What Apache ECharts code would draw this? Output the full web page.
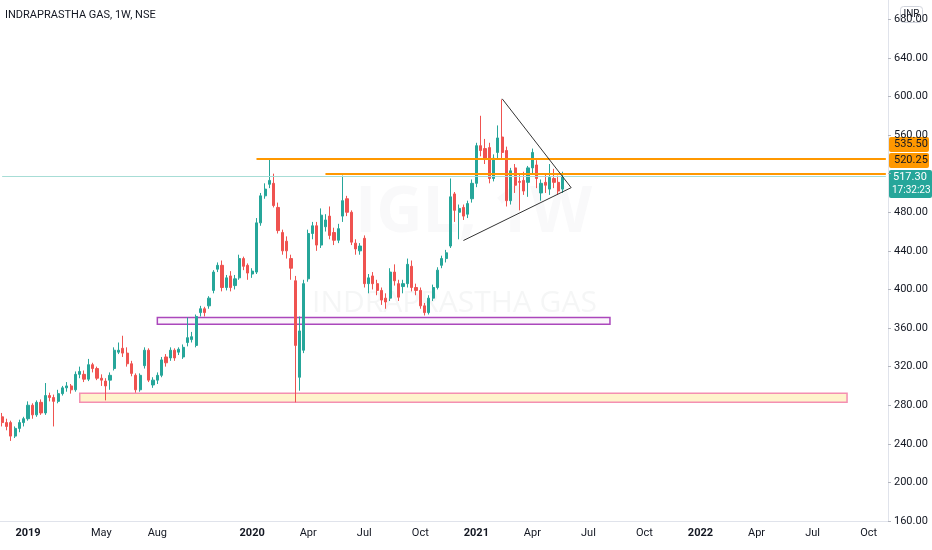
<!DOCTYPE html>
<html><head><meta charset="utf-8">
<script src="https://cdn.jsdelivr.net/npm/echarts@6/dist/echarts.min.js"></script>
<style>html,body{margin:0;padding:0;background:#fff}#c{width:932px;height:550px}</style>
</head><body><div id="c"></div>
<script>
// weekly OHLC as [open, close, low, high], first week = 2018-11-26
const candles = [
[268,262,258,272],[262,258,254,266],[262,248,243,264],[248,256,246,258],[256,262,252,265],
[262,266,258,268],[266,280,264,284],[280,270,266,282],[270,283,268,285],[283,272,270,286],
[272,290,270,303],[290,288,284,293],[288,284,258,291],[284,292,282,296],[292,298,290,300],
[298,300,294,304],[300,296,292,302],[296,312,294,315],[312,315,308,320],[312,307,304,316],
[307,322,305,328],[322,318,314,324],[318,308,306,320],[308,306,300,312],[305,300,285,308],
[306,311,296,314],[318,337,316,340],[335,337,333,345],[339,334,330,352],[334,323,320,340],
[323,313,310,326],[311,296,293,313],[296,311,294,313],[321,337,318,340],[337,306,304,339],
[301,306,298,309],[306,311,302,314],[311,327,309,330],[330,324,320,333],[329,337,326,340],
[337,329,326,339],[335,338,332,340],[330,340,328,343],[345,350,341,371],[348,351,345,356],
[342,372,340,374],[376,380,372,383],[380,376,372,382],[383,391,380,393],[399,418,396,420],
[421,425,418,428],[425,402,398,430],[402,412,399,415],[414,402,398,419],[404,411,400,415],
[412,432,410,436],[432,424,420,434],[425,417,410,427],[416,419,412,422],[418,469,416,474],
[469,497,466,500],[497,504,494,510],[509,513,505,535],[510,487,485,520],[485,461,458,490],
[459,440,436,462],[450,440,432,455],[432,422,410,436],[409,342,283,414],[309,357,295,372],
[337,406,334,410],[411,458,408,462],[458,466,452,470],[466,446,440,470],[446,477,443,484],
[465,472,460,478],[476,456,452,486],[459,451,446,464],[451,463,448,468],[476,492,470,518],
[494,480,476,497],[480,449,446,482],[448,442,436,452],[440,445,436,448],[453,406,402,456],
[406,412,396,416],[414,406,400,418],[406,399,394,410],[399,389,384,402],[391,387,380,396],
[391,418,388,422],[418,409,404,426],[406,392,388,410],[403,406,396,410],[406,426,402,432],
[424,402,398,430],[402,399,394,406],[399,383,380,402],[383,376,373,386],[376,391,374,394],
[391,402,388,405],[402,420,400,423],[425,432,422,435],[432,438,428,441],[445,496,443,515],
[499,482,470,501],[480,484,452,488],[485,476,472,488],[478,489,474,492],[494,510,490,514],
[510,549,506,552],[549,544,538,580],[546,536,530,556],[547,515,510,552],[515,536,512,540],
[542,557,535,570],[558,542,536,597],[544,492,486,548],[492,523,488,526],[526,508,500,530],
[512,511,482,520],[513,502,498,522],[511,526,496,528],[526,542,520,546],[529,515,505,534],
[500,510,492,514],[511,508,500,520],[504,516,498,530],[515,511,505,525],[511,502,498,518],
[504,517.3,500,522]
];
const totalWeeks = 206;
const startDate = new Date(Date.UTC(2018,10,26));
const tickMonths = [[2019,0],[2019,4],[2019,7],[2020,0],[2020,3],[2020,6],[2020,9],[2021,0],[2021,3],[2021,6],[2021,9],[2022,0],[2022,3],[2022,6],[2022,9]];
const monthNames = ['Jan','Feb','Mar','Apr','May','Jun','Jul','Aug','Sep','Oct','Nov','Dec'];
const levels = {resist1:535.5, resist2:520.25, last:517.3};
const hiddenTicks = [520];
// drawings: [x-index, value]
const trendUpper = [[116,597.6],[132,505.5]];
const trendLower = [[107,450.7],[132,505.5]];
const purpleZone = [[36,371],[141,363.8]];
const yellowZone = [[18,292.4],[196,283.1]];
const resistStart = [59,75];

const cats=[];
for(let i=0;i<totalWeeks;i++){const d=new Date(startDate.getTime()+i*7*864e5);cats.push(d.toISOString().slice(0,10));}
const labelMap={};
tickMonths.forEach(([y,m])=>{
  for(let i=0;i<cats.length;i++){const d=new Date(cats[i]);if(d.getUTCFullYear()===y&&d.getUTCMonth()===m){labelMap[i]=m===0?String(y):monthNames[m];break;}}
});
const G='#26a69a',R='#ef5350';
const F='Roboto, sans-serif';
const chart=echarts.init(document.getElementById('c'));
chart.setOption({
  animation:false,
  textStyle:{fontFamily:F},
  grid:{left:0,right:44,top:-1,bottom:29},
  xAxis:{type:'category',data:cats,boundaryGap:true,
    axisLine:{lineStyle:{color:'#e0e3eb'}},axisTick:{show:false},splitLine:{show:false},
    axisLabel:{interval:(i)=>labelMap[i]!==undefined,color:'#131722',fontSize:11,margin:7,fontFamily:F,
      formatter:(v,i)=>{const t=labelMap[i];return /^\d{4}$/.test(t)?'{b|'+t+'}':t;},
      rich:{b:{fontWeight:'bold',fontSize:11,color:'#131722',fontFamily:F}}}},
  yAxis:{type:'value',position:'right',min:160,max:700,interval:40,scale:true,
    axisLine:{show:true,lineStyle:{color:'#e0e3eb'}},axisTick:{show:true,length:3,lineStyle:{color:'#b2b5be'}},splitLine:{show:false},
    axisLabel:{color:'#131722',fontSize:11,margin:6,fontFamily:F,showMaxLabel:false,formatter:v=>hiddenTicks.includes(v)?'':v.toFixed(2)}},
  series:[{type:'candlestick',data:candles,barWidth:'62%',
    itemStyle:{color:G,color0:R,borderColor:G,borderColor0:R,borderWidth:1},
    markLine:{symbol:'none',silent:true,label:{show:false},
      data:[
        [{coord:[0,levels.last],lineStyle:{color:'#a7ddd6',width:1,type:'solid'}},{coord:[totalWeeks-1,levels.last]}],
        [{coord:[resistStart[0],levels.resist1],lineStyle:{color:'#ff9800',width:2,type:'solid'}},{coord:[totalWeeks-1,levels.resist1]}],
        [{coord:[resistStart[1],levels.resist2],lineStyle:{color:'#ff9800',width:2,type:'solid'}},{coord:[totalWeeks-1,levels.resist2]}],
        [{coord:trendUpper[0],lineStyle:{color:'#333',width:1,type:'solid'}},{coord:trendUpper[1]}],
        [{coord:trendLower[0],lineStyle:{color:'#333',width:1,type:'solid'}},{coord:trendLower[1]}]
      ]},
    markArea:{silent:true,data:[
      [{coord:purpleZone[0],itemStyle:{color:'rgba(225,190,231,0.15)',borderColor:'#ab47bc',borderWidth:1.5}},{coord:purpleZone[1]}],
      [{coord:yellowZone[0],itemStyle:{color:'rgba(255,235,170,0.6)',borderColor:'#f48fb1',borderWidth:1.5}},{coord:yellowZone[1]}]
    ]}
  }],
  graphic:[
    {type:'text',left:5,top:10,style:{text:'INDRAPRASTHA GAS, 1W, NSE',fill:'#131722',font:'11px Roboto, sans-serif'}},
    {type:'text',left:355,top:182,z:-1,style:{text:'IGL, 1W',fill:'rgba(120,123,134,0.045)',font:'bold 64px "Open Sans", sans-serif'}},
    {type:'text',left:312,top:288,z:-1,style:{text:'INDRAPRASTHA GAS',fill:'rgba(120,123,134,0.07)',font:'30px "Open Sans", sans-serif'}},
    {type:'group',left:889,top:137,z:100,children:[{type:'rect',shape:{x:0,y:0,width:40,height:15,r:2},style:{fill:'#ff9800'}},
      {type:'text',style:{x:5,y:2,text:'535.50',fill:'#131722',font:'11px Roboto, sans-serif'}}]},
    {type:'group',left:889,top:153,z:100,children:[{type:'rect',shape:{x:0,y:0,width:40,height:15,r:2},style:{fill:'#ff9800'}},
      {type:'text',style:{x:5,y:2,text:'520.25',fill:'#131722',font:'11px Roboto, sans-serif'}}]},
    {type:'group',left:889,top:170,z:100,children:[{type:'rect',shape:{x:0,y:0,width:43,height:28,r:2},style:{fill:'#26a69a'}},
      {type:'text',style:{x:4,y:2,text:'517.30',fill:'#fff',font:'11px Roboto, sans-serif'}},
      {type:'text',style:{x:3,y:15,text:'17:32:23',fill:'#fff',font:'10px Roboto, sans-serif'}}]},
    {type:'group',left:900,top:6,z:100,children:[{type:'rect',shape:{x:0,y:0,width:22,height:16,r:3},style:{fill:'#fff',stroke:'#d1d4dc'}},
      {type:'text',style:{x:3,y:3,text:'INR',fill:'#131722',font:'10px Roboto, sans-serif'}}]}
  ]
});
</script></body></html>
